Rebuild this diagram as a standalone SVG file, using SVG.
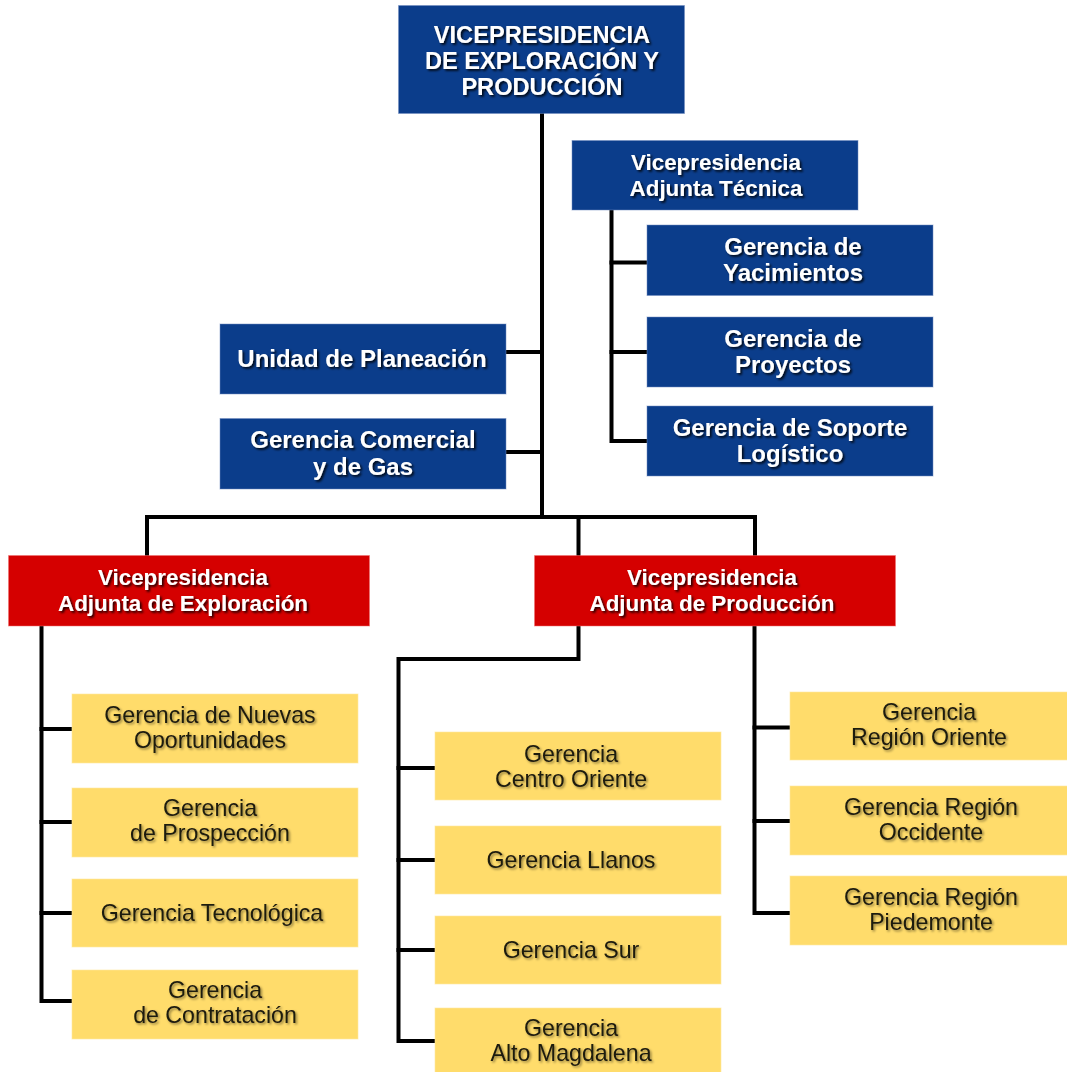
<svg xmlns="http://www.w3.org/2000/svg" width="1067" height="1072" viewBox="0 0 1067 1072">
<defs>
<filter id="shW" x="-10%" y="-30%" width="120%" height="160%">
<feDropShadow dx="1.8" dy="1.8" stdDeviation="0.9" flood-color="#000" flood-opacity="0.85"/>
</filter>
<filter id="shD" x="-10%" y="-30%" width="120%" height="160%">
<feDropShadow dx="1.5" dy="1.5" stdDeviation="1" flood-color="#000" flood-opacity="0.45"/>
</filter>
</defs>
<style>
.blue{fill:#0b3d8b;stroke:#6f8cc0;stroke-width:1;stroke-opacity:0.5}
.red{fill:#d50000;stroke:#f07070;stroke-width:1;stroke-opacity:0.5}
.yel{fill:#ffdc6b;stroke:#ffe9a0;stroke-width:1;stroke-opacity:0.6}
.wt{font-family:"Liberation Sans",Arial,sans-serif;font-weight:bold;fill:#ffffff;text-anchor:middle;filter:url(#shW)}
.top{font-size:23.6px}
.vp{font-size:22.4px}
.gb{font-size:24px}
.dt{font-family:"Liberation Sans",Arial,sans-serif;font-size:23.2px;fill:#1c1a10;text-anchor:middle;filter:url(#shD)}
.conn{fill:none;stroke:#000;stroke-width:4;stroke-linecap:square;stroke-linejoin:miter}
</style>
<rect width="1067" height="1072" fill="#ffffff"/>
<g id="connectors" class="conn">
<path d="M542 113 V517"/>
<path d="M147 556 V517 H755 V556"/>
<path d="M578.5 517 V556"/>
<path d="M542 352 H506"/>
<path d="M542 452 H506"/>
<path d="M611.5 210 V441 H647"/>
<path d="M611.5 262.5 H647"/>
<path d="M611.5 352 H647"/>
<path d="M41.5 626 V1001 H72"/>
<path d="M41.5 729 H72"/>
<path d="M41.5 822 H72"/>
<path d="M41.5 913 H72"/>
<path d="M578.5 626 V659 H398.5 V1041 H435"/>
<path d="M398.5 768 H435"/>
<path d="M398.5 860 H435"/>
<path d="M398.5 950 H435"/>
<path d="M754.5 626 V913 H790"/>
<path d="M754.5 727.5 H790"/>
<path d="M754.5 821 H790"/>
</g>
<g id="vp-exploracion-produccion">
<rect class="blue" x="398.5" y="5.5" width="286" height="108"/>
<text class="wt top" x="542" y="43">VICEPRESIDENCIA</text>
<text class="wt top" x="542" y="69">DE EXPLORACIÓN Y</text>
<text class="wt top" x="542" y="95">PRODUCCIÓN</text>
</g>
<g id="vp-adjunta-tecnica">
<rect class="blue" x="572" y="140.5" width="286" height="69.5"/>
<text class="wt vp" x="716" y="170">Vicepresidencia</text>
<text class="wt vp" x="716" y="196">Adjunta Técnica</text>
</g>
<g id="gerencia-yacimientos">
<rect class="blue" x="647" y="225" width="286" height="70.5"/>
<text class="wt gb" x="793" y="255">Gerencia de</text>
<text class="wt gb" x="793" y="281">Yacimientos</text>
</g>
<g id="gerencia-proyectos">
<rect class="blue" x="647" y="317" width="286" height="70"/>
<text class="wt gb" x="793" y="347">Gerencia de</text>
<text class="wt gb" x="793" y="373">Proyectos</text>
</g>
<g id="gerencia-soporte">
<rect class="blue" x="647" y="406" width="286" height="70"/>
<text class="wt gb" x="790" y="436">Gerencia de Soporte</text>
<text class="wt gb" x="790" y="462">Logístico</text>
</g>
<g id="unidad-planeacion">
<rect class="blue" x="220" y="324" width="286" height="70"/>
<text class="wt gb" x="362" y="367">Unidad de Planeación</text>
</g>
<g id="gerencia-comercial">
<rect class="blue" x="220" y="418.5" width="286" height="70.5"/>
<text class="wt gb" x="363" y="448">Gerencia Comercial</text>
<text class="wt gb" x="363" y="475">y de Gas</text>
</g>
<g id="vp-adjunta-exploracion">
<rect class="red" x="8.5" y="555.5" width="361" height="70.5"/>
<text class="wt vp" x="183" y="585">Vicepresidencia</text>
<text class="wt vp" x="183" y="611">Adjunta de Exploración</text>
</g>
<g id="vp-adjunta-produccion">
<rect class="red" x="534.5" y="555.5" width="361" height="70.5"/>
<text class="wt vp" x="712" y="585">Vicepresidencia</text>
<text class="wt vp" x="712" y="611">Adjunta de Producción</text>
</g>
<g id="gerencia-nuevas-oportunidades">
<rect class="yel" x="72" y="694" width="286" height="69"/>
<text class="dt" x="210" y="722.5">Gerencia de Nuevas</text>
<text class="dt" x="210" y="747.5">Oportunidades</text>
</g>
<g id="gerencia-prospeccion">
<rect class="yel" x="72" y="788" width="286" height="69"/>
<text class="dt" x="210" y="816">Gerencia</text>
<text class="dt" x="210" y="841">de Prospección</text>
</g>
<g id="gerencia-tecnologica">
<rect class="yel" x="72" y="879" width="286" height="68"/>
<text class="dt" x="212" y="921">Gerencia Tecnológica</text>
</g>
<g id="gerencia-contratacion">
<rect class="yel" x="72" y="970" width="286" height="69"/>
<text class="dt" x="215" y="998">Gerencia</text>
<text class="dt" x="215" y="1023">de Contratación</text>
</g>
<g id="gerencia-centro-oriente">
<rect class="yel" x="435" y="732" width="286" height="68"/>
<text class="dt" x="571" y="761.5">Gerencia</text>
<text class="dt" x="571" y="786.5">Centro Oriente</text>
</g>
<g id="gerencia-llanos">
<rect class="yel" x="435" y="826" width="286" height="68"/>
<text class="dt" x="571" y="868">Gerencia Llanos</text>
</g>
<g id="gerencia-sur">
<rect class="yel" x="435" y="916" width="286" height="68"/>
<text class="dt" x="571" y="958">Gerencia Sur</text>
</g>
<g id="gerencia-alto-magdalena">
<rect class="yel" x="435" y="1008" width="286" height="70"/>
<text class="dt" x="571" y="1035.5">Gerencia</text>
<text class="dt" x="571" y="1060.5">Alto Magdalena</text>
</g>
<g id="gerencia-region-oriente">
<rect class="yel" x="790" y="692" width="290" height="68"/>
<text class="dt" x="929" y="719.5">Gerencia</text>
<text class="dt" x="929" y="744.5">Región Oriente</text>
</g>
<g id="gerencia-region-occidente">
<rect class="yel" x="790" y="786" width="290" height="69"/>
<text class="dt" x="931" y="814.5">Gerencia Región</text>
<text class="dt" x="931" y="839.5">Occidente</text>
</g>
<g id="gerencia-region-piedemonte">
<rect class="yel" x="790" y="876" width="290" height="69"/>
<text class="dt" x="931" y="904.5">Gerencia Región</text>
<text class="dt" x="931" y="929.5">Piedemonte</text>
</g>
</svg>
